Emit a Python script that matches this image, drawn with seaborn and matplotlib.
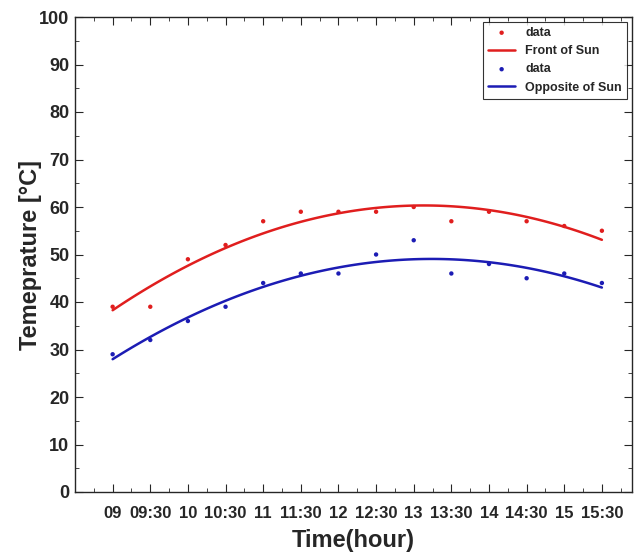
import matplotlib
matplotlib.use("Agg")
import matplotlib.pyplot as plt
import seaborn as sns
import numpy as np
import pandas as pd
from matplotlib.ticker import MultipleLocator

time_labels = ["09", "09:30", "10", "10:30", "11", "11:30", "12", "12:30",
               "13", "13:30", "14", "14:30", "15", "15:30"]
front_sun = [39, 39, 49, 52, 57, 59, 59, 59, 60, 57, 59, 57, 56, 55]
opposite_sun = [29, 32, 36, 39, 44, 46, 46, 50, 53, 46, 48, 45, 46, 44]

sns.set_style("ticks")
plt.rcParams['font.family'] = ['Liberation Sans', 'DejaVu Sans']
plt.rcParams['font.weight'] = 'bold'

xpos = np.arange(1, len(time_labels) + 1)
df = pd.DataFrame({"x": xpos, "front": front_sun, "opp": opposite_sun})

fig = plt.figure(figsize=(6.43, 5.54), dpi=100)
ax = fig.add_axes([75/643, 62/554, (632-75)/643, (492-17)/554])

red = "#e01e1e"
blue = "#1c1cb4"

sns.scatterplot(data=df, x="x", y="front", ax=ax, color=red, s=10, marker="o",
                edgecolor="none", label="data")
sns.regplot(data=df, x="x", y="front", ax=ax, order=2, ci=None, scatter=False,
            color=red, line_kws={"lw": 1.8}, label="Front of Sun")
sns.scatterplot(data=df, x="x", y="opp", ax=ax, color=blue, s=10, marker="o",
                edgecolor="none", label="data")
sns.regplot(data=df, x="x", y="opp", ax=ax, order=2, ci=None, scatter=False,
            color=blue, line_kws={"lw": 1.8}, label="Opposite of Sun")

ax.set_xlim(0, 14.8)
ax.set_ylim(0, 100)
ax.set_xticks(xpos)
ax.set_xticklabels(time_labels)
ax.xaxis.set_minor_locator(MultipleLocator(0.5))
ax.yaxis.set_major_locator(MultipleLocator(10))
ax.yaxis.set_minor_locator(MultipleLocator(5))
ax.tick_params(axis="both", which="both", direction="in", top=True, right=True)
ax.tick_params(axis="both", which="major", length=6)
ax.tick_params(axis="y", which="major", labelsize=13, pad=4)
ax.tick_params(axis="x", which="major", labelsize=12, pad=10)
ax.tick_params(axis="both", which="minor", length=3)
for lab in ax.get_xticklabels() + ax.get_yticklabels():
    lab.set_fontweight("bold")

ax.set_xlabel("Time(hour)", fontsize=17, fontweight="bold", labelpad=6)
ax.set_ylabel("Temeprature [°C]", fontsize=17, fontweight="bold", labelpad=-2)

leg = ax.legend(loc="upper right", frameon=True, fancybox=False,
                edgecolor="black", handlelength=2.2, borderaxespad=0.4,
                prop={"weight": "bold", "size": 9})
leg.get_frame().set_linewidth(0.8)

for sp in ax.spines.values():
    sp.set_linewidth(1.0)

fig.savefig("out.png", dpi=100)
